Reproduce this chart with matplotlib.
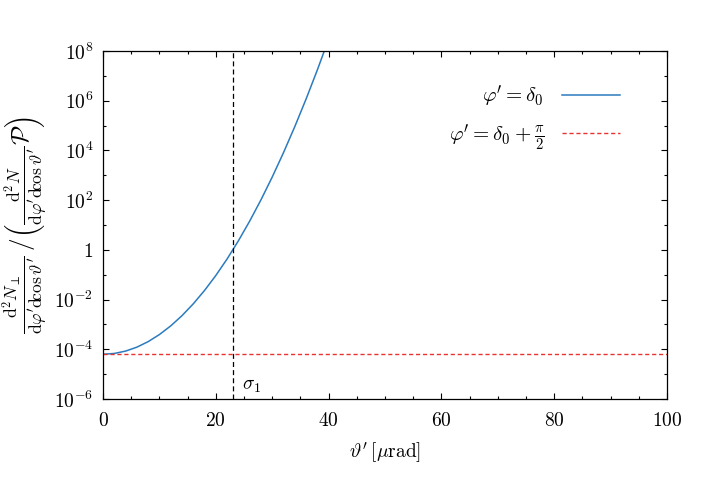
import numpy as np
import matplotlib
matplotlib.use("Agg")
import matplotlib.pyplot as plt
from matplotlib.ticker import FixedLocator, FixedFormatter, MultipleLocator, NullFormatter

# curve (phi' = delta_0), log10 of the ratio
theta = [0, 2, 4, 6, 8, 10, 12, 14, 16, 18, 20, 22, 24, 26, 28, 30, 32, 34, 36, 38, 40]
log_ratio_par = [-4.200, -4.168, -4.073, -3.915, -3.693, -3.408, -3.060, -2.648, -2.172,
                 -1.634, -1.032, -0.367, 0.362, 1.154, 2.009, 2.928, 3.910, 4.956,
                 6.064, 7.237, 8.472]
# phi' = delta_0 + pi/2 stays flat
theta_perp = [0, 100]
ratio_perp = [6.3e-5, 6.3e-5]
sigma1 = 23.1

ytick_vals = [1e-6, 1e-4, 1e-2, 1, 1e2, 1e4, 1e6, 1e8]
ytick_labels = [r"$10^{-6}$", r"$10^{-4}$", r"$10^{-2}$", r"$1$",
                r"$10^{2}$", r"$10^{4}$", r"$10^{6}$", r"$10^{8}$"]
yminor_vals = [1e-5, 1e-3, 1e-1, 1e1, 1e3, 1e5, 1e7]
xtick_vals = [0, 20, 40, 60, 80, 100]

plt.rcParams["font.family"] = "serif"
plt.rcParams["font.serif"] = ["cmr10", "DejaVu Serif"]
plt.rcParams["mathtext.fontset"] = "cm"
plt.rcParams["axes.unicode_minus"] = False

fig = plt.figure(figsize=(7.06, 4.94), dpi=100)
ax = fig.add_axes([0.1459, 0.1923, 0.7989, 0.7045])

ratio_par = 10.0 ** np.array(log_ratio_par)
ax.plot(theta, ratio_par, color="#2b7bbf", lw=1.1, label=r"$\varphi' = \delta_0$")
ax.plot(theta_perp, ratio_perp, color="#e8332f", lw=1.0, ls=(0, (3, 2)),
        label=r"$\varphi' = \delta_0 + \frac{\pi}{2}$")
ax.axvline(sigma1, color="black", lw=0.9, ls=(0, (4, 2.5)))
ax.text(sigma1 + 1.6, 2.4e-6, r"$\sigma_1$", fontsize=14, va="baseline")

ax.set_yscale("log")
ax.set_xlim(0, 100)
ax.set_ylim(1e-6, 1e8)
ax.yaxis.set_major_locator(FixedLocator(ytick_vals))
ax.yaxis.set_major_formatter(FixedFormatter(ytick_labels))
ax.yaxis.set_minor_locator(FixedLocator(yminor_vals))
ax.yaxis.set_minor_formatter(NullFormatter())
ax.set_xticks(xtick_vals)
ax.set_xticklabels([r"$%d$" % v for v in xtick_vals])
ax.xaxis.set_minor_locator(MultipleLocator(5))

ax.tick_params(which="both", direction="in", top=True, right=True, labelsize=14)
ax.tick_params(axis="y", pad=7)
ax.tick_params(axis="x", pad=9)
ax.tick_params(which="major", length=4.5, width=0.8)
ax.tick_params(which="minor", length=2.5, width=0.8)
for sp in ax.spines.values():
    sp.set_linewidth(0.9)

ax.set_xlabel(r"$\vartheta'\,[\mu\mathrm{rad}]$", fontsize=14, labelpad=8)
ax.set_ylabel(r"$\frac{\mathrm{d}^2 N_\perp}{\mathrm{d}\varphi'\mathrm{d}\!\cos\vartheta'}"
              r"\,/\left(\frac{\mathrm{d}^2 N}{\mathrm{d}\varphi'\mathrm{d}\!\cos\vartheta'}"
              r"\mathcal{P}\right)$",
              fontsize=18, labelpad=3)

ax.legend(loc="upper right", bbox_to_anchor=(0.9167, 0.906), frameon=False,
          markerfirst=False, fontsize=15, handlelength=2.8, handletextpad=0.85,
          borderpad=0, borderaxespad=0, labelspacing=0.6)

fig.savefig("out.png", dpi=100)
